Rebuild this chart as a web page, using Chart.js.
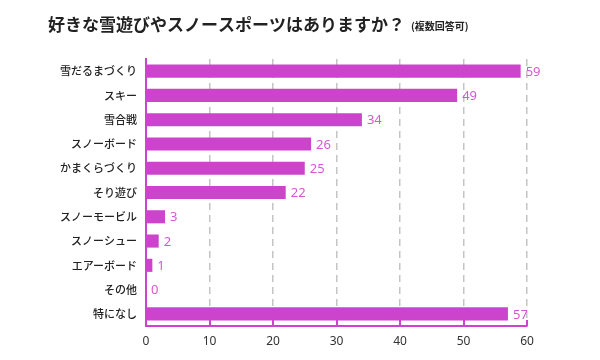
<!DOCTYPE html>
<html>
<head>
<meta charset="utf-8">
<script src="https://cdn.jsdelivr.net/npm/chart.js@4"></script>
<style>
html,body{margin:0;padding:0;background:#fff;}
#wrap{width:600px;height:360px;position:relative;}
</style>
</head>
<body>
<div id="wrap"><canvas id="c" width="600" height="360"></canvas></div>
<script>
const titleMain = "好きな雪遊びやスノースポーツはありますか？";
const titleSub = "(複数回答可)";
const categories = ["雪だるまづくり","スキー","雪合戦","スノーボード","かまくらづくり","そり遊び","スノーモービル","スノーシュー","エアーボード","その他","特になし"];
const values = [59,49,34,26,25,22,3,2,1,0,57];
const xTicks = [0,10,20,30,40,50,60];

const MAG = "#cc44cc";
const LABEL = "#d458d4";

const titlePlugin = {
  id: "titlePlugin",
  beforeDraw(chart) {
    const ctx = chart.ctx;
    ctx.save();
    ctx.fillStyle = "#222";
    ctx.textBaseline = "middle";
    ctx.textAlign = "left";
    ctx.font = "bold 17px 'Noto Sans CJK JP'";
    ctx.fillText(titleMain, 48, 25);
    const w = ctx.measureText(titleMain).width;
    ctx.font = "bold 10px 'Noto Sans CJK JP'";
    ctx.fillText(titleSub, 48 + w + 6, 26);
    ctx.restore();
  }
};

const valuePlugin = {
  id: "valuePlugin",
  afterDraw(chart) {
    const ctx = chart.ctx;
    const meta = chart.getDatasetMeta(0);
    const xs = chart.scales.x;
    ctx.save();
    ctx.strokeStyle = MAG;
    ctx.lineWidth = 2;
    const b = chart.chartArea.bottom;
    xTicks.forEach(v => {
      if (v === 0) return;
      const px = Math.round(xs.getPixelForValue(v));
      ctx.beginPath();
      ctx.moveTo(px, b);
      ctx.lineTo(px, b - 6);
      ctx.stroke();
    });
    ctx.fillStyle = LABEL;
    ctx.font = "13px 'Noto Sans'";
    ctx.textBaseline = "middle";
    ctx.textAlign = "left";
    meta.data.forEach((bar, i) => {
      ctx.fillText(String(values[i]), bar.x + 5, bar.y + 1);
    });
    ctx.restore();
  }
};

new Chart(document.getElementById("c"), {
  type: "bar",
  data: {
    labels: categories,
    datasets: [{
      data: values,
      backgroundColor: MAG,
      borderWidth: 0,
      categoryPercentage: 1,
      barPercentage: 0.54
    }]
  },
  plugins: [titlePlugin, valuePlugin],
  options: {
    indexAxis: "y",
    responsive: false,
    animation: false,
    devicePixelRatio: 1,
    layout: { padding: { top: 59, right: 73, bottom: 0, left: 0 } },
    plugins: { legend: { display: false }, tooltip: { enabled: false }, title: { display: false } },
    scales: {
      x: {
        min: 0, max: 60,
        z: 1,
        afterFit(s) { s.height = 34; },
        afterBuildTicks(s) { s.ticks = xTicks.map(v => ({ value: v })); },
        grid: {
          color: ctx => (ctx.tick && ctx.tick.value === 0) ? "rgba(0,0,0,0)" : "#c4c4c4",
          lineWidth: 1.5,
          drawTicks: false
        },
        border: { display: true, color: MAG, width: 2, dash: [7, 5] },
        ticks: {
          color: "#333",
          font: { family: "'Noto Sans'", size: 12 },
          padding: 8,
          maxRotation: 0
        }
      },
      y: {
        afterFit(s) { s.width = 146; },
        grid: { display: false, drawTicks: false },
        border: { display: true, color: MAG, width: 2 },
        ticks: {
          color: "#222",
          font: { family: "'Noto Sans CJK JP'", size: 11, weight: "500" },
          padding: 9
        }
      }
    }
  }
});
</script>
</body>
</html>
